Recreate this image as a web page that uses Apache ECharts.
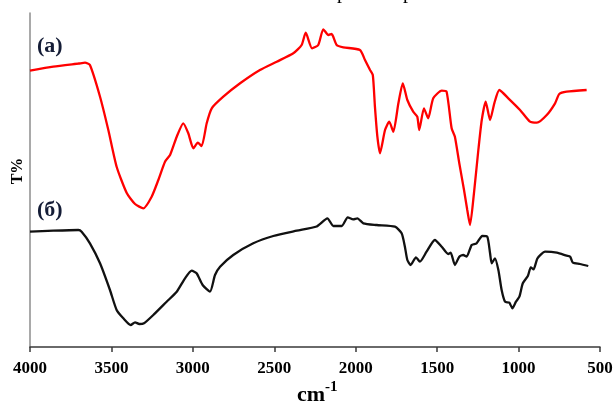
<!DOCTYPE html>
<html>
<head>
<meta charset="utf-8">
<script src="https://cdn.jsdelivr.net/npm/echarts@6/dist/echarts.min.js"></script>
<style>
html,body{margin:0;padding:0;background:#fff;}
#chart{width:616px;height:403px;}
</style>
</head>
<body>
<div id="chart"></div>
<script>
// X axis tick labels (wavenumber, cm-1)
var xTicks = [4000, 3500, 3000, 2500, 2000, 1500, 1000, 500];

// Spectrum (а) — red
var wnA = [4000,3857,3700,3662,3632,3570,3519,3468,3406,3355,3304,3253,3212,3171,3140,3099,3059,3028,2997,2970,2946,2915,2884,2813,2710,2588,2485,2383,2332,2307,2268,2230,2199,2168,2148,2117,2076,1974,1943,1912,1895,1882,1867,1851,1820,1794,1769,1738,1711,1683,1647,1622,1610,1581,1555,1524,1472,1442,1411,1391,1364,1335,1315,1298,1274,1247,1226,1202,1175,1149,1118,1063,991,930,887,827,776,750,705,582];
var tA  = [276.3,280.3,283.5,284.3,282,250.3,217,180.3,154,143,138.7,150.3,167,185.3,192,210.3,223.7,213.7,198.7,204.3,201,223.7,238.7,250.3,263.7,277,285.3,293.7,302,314.3,298.7,302,317.7,312,313,302,299.7,297,287,277,272,240.3,210.3,193.7,217,225.3,215.3,243.7,263.7,247,235.3,230.3,217,238.7,228.7,248.7,256.3,255.3,218.7,210.3,183.7,157,137,122,153.7,197,227,245.3,227,243.7,257,248.7,237,225.3,224.3,232,243.7,253,255.3,257];

// Spectrum (б) — black
var wnB = [4000,3857,3703,3683,3632,3570,3509,3468,3427,3382,3355,3329,3300,3243,3161,3099,3048,3007,2977,2940,2895,2864,2833,2752,2629,2506,2362,2240,2174,2137,2086,2049,2015,1990,1953,1871,1759,1718,1698,1683,1663,1630,1606,1565,1514,1472,1432,1417,1391,1364,1340,1319,1288,1258,1223,1192,1175,1165,1145,1124,1104,1083,1057,1038,1016,995,974,943,925,908,884,837,765,705,683,667,623,572];
var tB  = [115.3,116.3,117,115.3,103.7,83.7,57,37,28.7,22,24.7,23,23.7,32,45.3,55.3,68.7,76.3,73.7,62,55.3,72,80.3,92,103.7,111,116.3,120.5,128.7,121,121,129.7,127.7,128.7,123.7,122,120.3,113.7,100.3,87,82,89.7,85.3,95.3,107,100.3,93,94.3,82,90.3,92,90.3,102,103.7,111,110.3,93.7,83.7,88.7,77,57,45.3,44.3,38.7,45.3,50.3,63.7,71,79.7,77.7,88.7,95.3,94.3,91.3,90.3,84.3,83,81];

var labelA = '(а)';
var labelB = '(б)';
var yName = 'T%';
var xNameMain = 'cm';
var xNameSup = '-1';

function pairs(xs, ys){ return xs.map(function(x,i){ return [x, ys[i]]; }); }

var serif = "'Liberation Serif', 'Times New Roman', serif";
var chart = echarts.init(document.getElementById('chart'), null, {renderer:'canvas'});
chart.setOption({
  animation: false,
  backgroundColor: '#fff',
  grid: {left: 30, right: 16, top: 13, bottom: 56, containLabel: false},
  xAxis: {
    type: 'value', min: 500, max: 4000, interval: 500, inverse: true,
    axisLine: {show: true, onZero: false, lineStyle: {color: '#3a3a3a', width: 1.5}},
    axisTick: {show: true, inside: false, length: 5, lineStyle: {color: '#3a3a3a', width: 1.5}},
    axisLabel: {show: true, margin: 13, color: '#000', fontFamily: serif, fontWeight: 'bold', fontSize: 17,
      showMinLabel: true, showMaxLabel: true,
      formatter: function(v){ return xTicks.indexOf(v) >= 0 ? String(v) : ''; }},
    splitLine: {show: false}
  },
  yAxis: {
    type: 'value', min: 0, max: 334,
    axisLine: {show: true, lineStyle: {color: '#8c8c8c', width: 1.5}},
    axisTick: {show: false}, axisLabel: {show: false}, splitLine: {show: false}
  },
  series: [
    {name: labelA, type: 'line', data: pairs(wnA, tA), showSymbol: false, smooth: 0.2,
     lineStyle: {color: '#ff0000', width: 2.3}, itemStyle: {color: '#ff0000'}},
    {name: labelB, type: 'line', data: pairs(wnB, tB), showSymbol: false, smooth: 0.2,
     lineStyle: {color: '#111111', width: 2.3}, itemStyle: {color: '#111111'}}
  ],
  graphic: [
    {type: 'text', left: 37, top: 35, style: {text: labelA, fill: '#141c36', font: "bold 22px " + serif}},
    {type: 'text', left: 37, top: 199, style: {text: labelB, fill: '#141c36', font: "bold 22px " + serif}},
    {type: 'text', x: 18, y: 171, rotation: Math.PI/2,
     style: {text: yName, fill: '#000', font: "bold 16px " + serif, align: 'center', verticalAlign: 'middle'}},
    {type: 'text', x: 311, y: 395,
     style: {text: xNameMain, fill: '#000', font: "bold 22px " + serif, align: 'center', verticalAlign: 'middle'}},
    {type: 'text', x: 325, y: 387,
     style: {text: xNameSup, fill: '#000', font: "bold 15px " + serif, align: 'left', verticalAlign: 'middle'}},
    {type: 'text', x: 342, y: -7,
     style: {text: 'р', fill: '#000', font: "20px " + serif, align: 'center', verticalAlign: 'middle'}},
    {type: 'text', x: 408, y: -7,
     style: {text: 'р', fill: '#000', font: "20px " + serif, align: 'center', verticalAlign: 'middle'}}
  ]
});
</script>
</body>
</html>
